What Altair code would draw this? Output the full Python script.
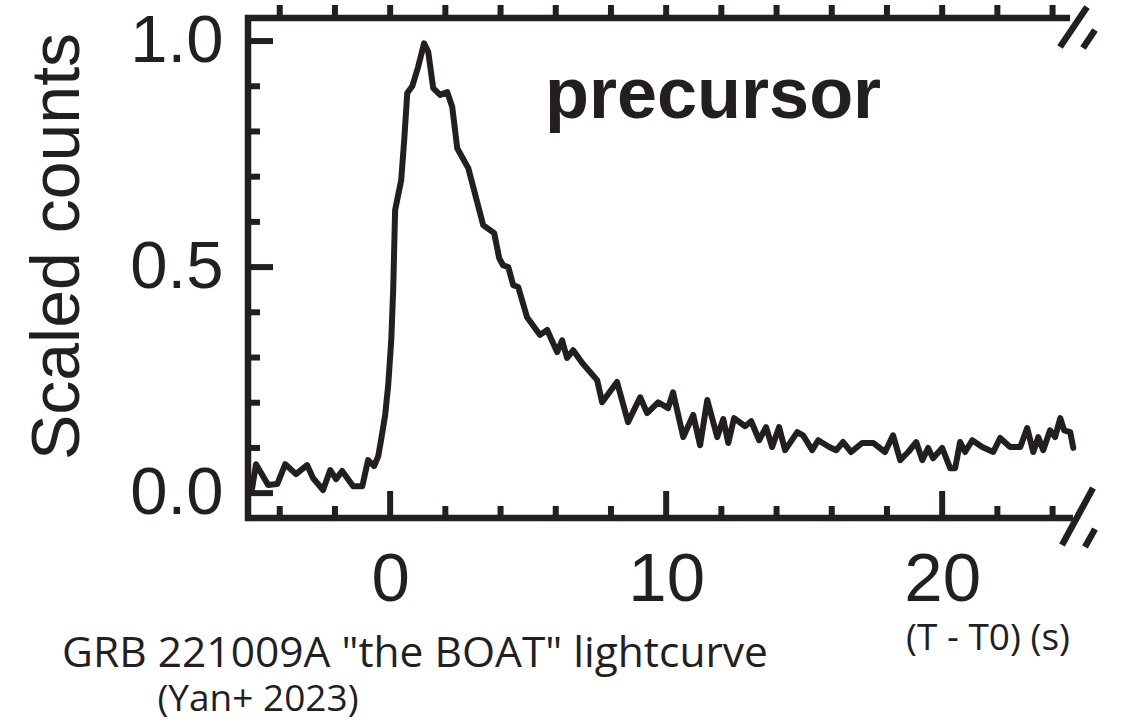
import altair as alt
import pandas as pd

# Light curve of the precursor: time since T0 (s) and counts scaled to the peak
t_sec = [
    -5.00, -4.86, -4.42, -4.09, -3.80, -3.41, -3.01, -2.79, -2.43, -2.17,
    -1.96, -1.74, -1.34, -1.01, -0.80, -0.58, -0.43, -0.33, -0.18, -0.07,
    0.04, 0.11, 0.18, 0.29, 0.40, 0.51, 0.62, 0.80, 1.01, 1.23,
    1.38, 1.56, 1.81, 2.07, 2.25, 2.43, 2.83, 3.37, 3.77, 3.95,
    4.09, 4.28, 4.46, 4.64, 4.96, 5.43, 5.69, 6.05, 6.23, 6.41,
    6.63, 6.96, 7.50, 7.68, 8.22, 8.62, 9.06, 9.31, 9.71, 10.07,
    10.25, 10.62, 10.98, 11.23, 11.49, 11.85, 12.07, 12.25, 12.46, 12.86,
    13.08, 13.37, 13.62, 13.84, 14.09, 14.31, 14.75, 14.96, 15.29, 15.51,
    15.91, 16.16, 16.41, 16.70, 17.10, 17.50, 17.93, 18.22, 18.48, 18.77,
    19.06, 19.28, 19.49, 19.67, 20.00, 20.29, 20.47, 20.65, 20.83, 21.09,
    21.45, 21.85, 22.10, 22.46, 22.83, 23.08, 23.30, 23.48, 23.66, 23.91,
    24.09, 24.28, 24.42, 24.64, 24.75,
]
scaled_counts = [
    0.011, 0.064, 0.018, 0.020, 0.064, 0.042, 0.062, 0.033, 0.007, 0.051,
    0.031, 0.049, 0.015, 0.015, 0.073, 0.060, 0.082, 0.117, 0.173, 0.239,
    0.338, 0.449, 0.626, 0.659, 0.692, 0.781, 0.885, 0.900, 0.942, 0.995,
    0.976, 0.896, 0.881, 0.887, 0.854, 0.763, 0.719, 0.593, 0.575, 0.520,
    0.504, 0.500, 0.460, 0.456, 0.389, 0.350, 0.361, 0.312, 0.338, 0.299,
    0.316, 0.288, 0.250, 0.201, 0.246, 0.157, 0.212, 0.177, 0.201, 0.188,
    0.223, 0.124, 0.173, 0.106, 0.206, 0.124, 0.164, 0.111, 0.166, 0.148,
    0.159, 0.117, 0.146, 0.102, 0.146, 0.095, 0.135, 0.128, 0.095, 0.117,
    0.102, 0.095, 0.113, 0.091, 0.111, 0.111, 0.091, 0.128, 0.073, 0.091,
    0.113, 0.073, 0.100, 0.077, 0.100, 0.055, 0.055, 0.113, 0.091, 0.117,
    0.102, 0.091, 0.122, 0.102, 0.102, 0.144, 0.091, 0.124, 0.095, 0.139,
    0.124, 0.166, 0.139, 0.135, 0.100,
]

# Tick positions
x_major = [0, 10, 20]
x_minor = [-4, -2, 2, 4, 6, 8, 12, 14, 16, 18, 22, 24]
x_top = [-4, -2, 0, 2, 4, 6, 8, 10, 12, 14, 16, 18, 20, 22, 24]
y_major = [0.0, 0.5, 1.0]
y_minor = [0.1, 0.2, 0.3, 0.4, 0.6, 0.7, 0.8, 0.9]

W, H = 825, 500
INK = "#231f20"
LW = 6
SANS = "Liberation Sans"

x_scale = alt.Scale(domain=[-5.15, 24.74], nice=False, zero=False)
y_scale = alt.Scale(domain=[-0.055, 1.051], nice=False, zero=False)

# One axis definition per channel, shared by every layer that uses the scale
x_axis = alt.Axis(
    values=x_major, format="d", title=None, domain=False, ticks=False,
    grid=False, labelFont=SANS, labelFontSize=69, labelColor=INK,
    labelPadding=82, labelBaseline="alphabetic", labelFlush=False,
)
y_axis = alt.Axis(
    values=y_major, format=".1f", title="Scaled counts", domain=False,
    ticks=False, grid=False, labelFont=SANS, labelFontSize=67,
    labelColor=INK, labelPadding=25, labelBaseline="middle",
    labelFlush=False, titleFont=SANS, titleFontSize=68,
    titleFontWeight="normal", titleColor=INK, titleX=-170, titleY=228,
    titleAngle=270, titleBaseline="alphabetic", titleAlign="center",
)

X = alt.X("t:Q", scale=x_scale, axis=x_axis, title=None)
Y = alt.Y("c:Q", scale=y_scale, axis=y_axis, title="Scaled counts")

one = pd.DataFrame({"k": [0]})

curve = alt.Chart(pd.DataFrame({"t": t_sec, "c": scaled_counts})).mark_line(
    color=INK, strokeWidth=LW, strokeJoin="round", strokeCap="round", clip=False
).encode(x=X, y=Y)


def xticks(vals, y0, y1):
    return alt.Chart(pd.DataFrame({"t": vals})).mark_rule(
        color=INK, strokeWidth=LW
    ).encode(x=X, y=alt.value(y0), y2=alt.value(y1))


def yticks(vals, length):
    return alt.Chart(pd.DataFrame({"c": vals})).mark_rule(
        color=INK, strokeWidth=LW
    ).encode(y=Y, x=alt.value(0), x2=alt.value(length))


def seg(x0, y0, x1, y1, width=LW + 0.5):
    return alt.Chart(one).mark_rule(
        color=INK, strokeWidth=width, strokeCap="butt"
    ).encode(x=alt.value(x0), y=alt.value(y0), x2=alt.value(x1), y2=alt.value(y1))


def label(txt, x, y, size, font="Open Sans", weight="normal", align="center"):
    return alt.Chart(one).mark_text(
        text=txt, font=font, fontSize=size, fontWeight=weight, color=INK,
        align=align, baseline="alphabetic"
    ).encode(x=alt.value(x), y=alt.value(y))


frame = [
    seg(0, -3, 0, H + 3),       # left spine
    seg(-3, 0, 822, 0),         # top spine
    seg(-3, H, 825, H),         # bottom spine
    # axis-break marks at the right end of both spines
    seg(812, 29, 839, -11),
    seg(835, 30, 847, 12),
    seg(814, 527, 845, 470),
    seg(837, 529, 847, 511),
]

ticks = [
    xticks(x_minor, H, H - 12),
    xticks(x_major, H, H - 27),
    xticks(x_top, 0, -13),
    yticks(y_minor, 12),
    yticks(y_major, 25),
]

texts = [
    label("precursor", 297, 100, 72, font=SANS, weight="bold", align="left"),
    label('GRB 221009A "the BOAT" lightcurve', 167, 649, 42.5),
    label("(Yan+ 2023)", 10, 693, 37),
    label("(T - T0) (s)", 740, 632, 37),
]

chart = alt.layer(curve, *ticks, *frame, *texts).properties(
    width=W, height=H,
    autosize=alt.AutoSizeParams(type="none"),
    padding={"left": 248, "top": 18, "right": 1122 - 248 - W, "bottom": 724 - 18 - H},
    background="white",
).configure_view(stroke=None)

chart.save("out.html", embed_options={"renderer": "svg", "actions": False})
